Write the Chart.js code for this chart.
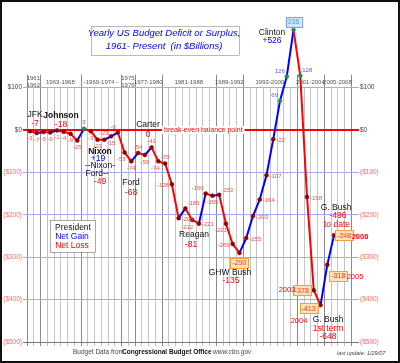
<!DOCTYPE html>
<html>
<head>
<meta charset="utf-8">
<script src="https://cdn.jsdelivr.net/npm/chart.js@4"></script>
<style>
  html, body { margin: 0; padding: 0; background: #fff; }
  canvas { display: block; }
</style>
</head>
<body>
<canvas id="deficitChart" width="400" height="363"></canvas>
<script>
// --- data (billions of dollars, fiscal years) ---
const years = [1961, 1962, 1963, 1964, 1965, 1966, 1967, 1968, 1969, 1970,
  1971, 1972, 1973, 1974, 1975, 1976, 1977, 1978, 1979, 1980,
  1981, 1982, 1983, 1984, 1985, 1986, 1987, 1988, 1989, 1990,
  1991, 1992, 1993, 1994, 1995, 1996, 1997, 1998, 1999, 2000,
  2001, 2002, 2003, 2004, 2005, 2006];
const balance = [-3, -7, -5, -6, -1, -4, -9, -25, 3, -3,
  -23, -23, -15, -6, -53, -74, -54, -59, -41, -74,
  -79, -128, -208, -185, -212, -221, -150, -155, -153, -221,
  -269, -290, -255, -203, -164, -107, -22, 69, 126, 236,
  128, -158, -378, -413, -318, -248];
const yTicks = [100, 0, -100, -200, -300, -400, -500];
const termStarts = [1961, 1963, 1969, 1975, 1977, 1981, 1989, 1993, 2001, 2005, 2009];
const termLabels = ["1961|1962", "1963-1968", "-1969-1974 -", "1975|1976", "1977-1980",
  "1981-1988", "1989-1992", "1993-2000", "2001-2004", "2005-2008"];

// where each value label sits relative to its point (B = boxed)
const labelSpots = ["b", "b", "b", "b", "b", "b", "b", "b", "a", "b",
  "b", "a", "b", "al", "bl", "b", "a", "b", "a", "bl",
  "a", "l", "r", "ar", "bl", "r", "al", "b", "ar", "bl",
  "l", "Bb", "r", "r", "r", "r", "r", "al", "al", "Ba",
  "ar", "r", "Bl", "Bl", "Bbr", "Br"];

const FONT = '"Liberation Sans", Arial, sans-serif';
const RED = "#ff0000";
const BLUE = "#0000ff";
const PINK = "#ff4a4a";
const SOFTBLUE = "#5a5aff";

function money(v) {
  return v < 0 ? "($" + (-v) + ")" : "$" + v;
}

function txt(ctx, s, x, y, color, size, opts = {}) {
  ctx.save();
  ctx.font = (opts.style || "") + " " + (opts.weight || "normal") + " " + size + "px " + FONT;
  ctx.fillStyle = color;
  ctx.textAlign = opts.align || "center";
  ctx.textBaseline = "middle";
  ctx.fillText(s, x, y);
  ctx.restore();
}

// --- background: year grid, term strip, bottom ticks ---
const backdrop = {
  id: "backdrop",
  beforeDraw(chart) {
    const { ctx, scales: { x, y } } = chart;
    const bottom = y.getPixelForValue(-500);
    const top100 = y.getPixelForValue(100);
    ctx.save();
    ctx.fillStyle = "#fff";
    ctx.fillRect(0, 0, chart.width, chart.height);
    // light yearly lines
    for (let yr = 1961; yr <= 2009; yr++) {
      const px = Math.round(x.getPixelForValue(yr - 0.5)) + 0.5;
      ctx.strokeStyle = "#c4c4c4";
      ctx.lineWidth = 1;
      ctx.beginPath();
      ctx.moveTo(px, top100);
      ctx.lineTo(px, bottom + 4);
      ctx.stroke();
    }
    // darker term lines
    termStarts.forEach(yr => {
      const px = Math.round(x.getPixelForValue(yr - 0.5)) + 0.5;
      ctx.strokeStyle = "#8a8a8a";
      ctx.beginPath();
      ctx.moveTo(px, top100 - 13);
      ctx.lineTo(px, bottom + 4);
      ctx.stroke();
    });
    // term strip labels
    termLabels.forEach((lab, i) => {
      const cx = (x.getPixelForValue(termStarts[i] - 0.5) + x.getPixelForValue(termStarts[i + 1] - 0.5)) / 2;
      const parts = lab.split("|");
      if (parts.length === 2) {
        txt(ctx, parts[0], cx, top100 - 9, "#555", 6);
        txt(ctx, parts[1], cx, top100 - 2, "#555", 6);
      } else {
        txt(ctx, lab, cx, top100 - 5, "#555", 6);
      }
    });
    ctx.restore();
  },
  beforeDatasetsDraw(chart) {
    const { ctx, scales: { y } } = chart;
    const y0 = y.getPixelForValue(0);
    ctx.save();
    ctx.font = "7px " + FONT;
    const w = ctx.measureText("break-even balance point").width;
    ctx.fillStyle = "#fff";
    ctx.fillRect(162, y0 - 4, w + 4, 8);
    ctx.restore();
    txt(ctx, "break-even balance point", 164, y0, RED, 7, { align: "left" });
  }
};

// --- value labels, notes, boxes ---
const notes = {
  id: "notes",
  afterDraw(chart) {
    const { ctx } = chart;
    const pts = chart.getDatasetMeta(0).data;
    pts.forEach((p, i) => {
      const v = balance[i];
      const s = String(v);
      const col = v >= 0 ? SOFTBLUE : PINK;
      const code = labelSpots[i];
      if (code[0] === "B") {
        ctx.save();
        ctx.font = "7px " + FONT;
        const w = ctx.measureText(s).width + 4;
        ctx.restore();
        let bx = p.x, by = p.y;
        if (code === "Bb") by += 10;
        if (code === "Ba") by -= 8;
        if (code === "Bl") { bx -= 12; by += (i === 43 ? 3 : 0); }
        if (code === "Br") bx += 10;
        if (code === "Bbr") { bx += 11; by += 11; }
        ctx.save();
        ctx.fillStyle = v >= 0 ? "#cfe6ff" : "#ffe3b0";
        ctx.strokeStyle = v >= 0 ? "#6fa0ff" : "#f0a040";
        ctx.lineWidth = 1;
        ctx.fillRect(bx - w / 2, by - 5, w, 10);
        ctx.strokeRect(Math.round(bx - w / 2) + 0.5, Math.round(by - 5) + 0.5, Math.round(w), 10);
        ctx.restore();
        txt(ctx, s, bx, by + 0.5, v >= 0 ? "#6f8fff" : "#ff3030", 7);
        return;
      }
      let lx = p.x, ly = p.y, al = "center";
      if (code === "b") ly += 7;
      if (code === "a") ly -= 6;
      if (code === "bl") { lx += 1; ly += 7; al = "right"; }
      if (code === "al") { lx -= 2; ly -= 5; al = "right"; }
      if (code === "ar") { lx += 2; ly -= 5; al = "left"; }
      if (code === "l") { lx -= 3; ly += 1; al = "right"; }
      if (code === "r") { lx += 3; ly += 1; al = "left"; }
      txt(ctx, s, lx, ly, col, 6, { align: al });
    });

    // president notes
    const blk = "#111";
    const nsz = 8.5;
    txt(ctx, "JFK", 35, 115, blk, nsz);
    txt(ctx, "-7", 35, 124, RED, nsz);
    txt(ctx, "Johnson", 61, 116, blk, nsz, { weight: "bold" });
    txt(ctx, "-18", 61, 125, RED, nsz);
    txt(ctx, "Carter", 148, 125, blk, nsz);
    txt(ctx, "0", 148, 135, RED, nsz);
    txt(ctx, "Nixon", 100, 152, blk, nsz, { weight: "bold" });
    txt(ctx, "+19", 98, 159, BLUE, nsz);
    txt(ctx, "--Nixon-", 100, 166, blk, nsz);
    txt(ctx, "Ford--", 97, 174, blk, nsz);
    txt(ctx, "-49", 100, 182, RED, nsz);
    txt(ctx, "Ford", 131, 183, blk, nsz);
    txt(ctx, "-68", 131, 193, RED, nsz);
    txt(ctx, "Reagan", 194, 235, blk, nsz);
    txt(ctx, "-81", 191, 245, RED, nsz);
    txt(ctx, "GHW Bush", 230, 273, blk, nsz);
    txt(ctx, "-135", 231, 281, RED, nsz);
    txt(ctx, "Clinton", 272, 33, blk, nsz);
    txt(ctx, "+526", 272, 41, BLUE, nsz);
    txt(ctx, "G. Bush", 336, 208, blk, nsz);
    txt(ctx, "-496", 338, 216, RED, nsz);
    txt(ctx, "to date", 337, 225, RED, nsz);
    txt(ctx, "G. Bush", 328, 320, blk, nsz);
    txt(ctx, "1st term", 328, 329, RED, nsz);
    txt(ctx, "-648", 328, 337, RED, nsz);
    txt(ctx, "2003", 287, 290, RED, 7.5);
    txt(ctx, "2004", 299, 321, RED, 7.5);
    txt(ctx, "2005", 355, 277, RED, 7.5);
    txt(ctx, "2006", 360, 237, RED, 7.5, { weight: "bold" });

    // title box
    ctx.save();
    ctx.fillStyle = "#fff";
    ctx.fillRect(91, 26, 148, 29);
    ctx.strokeStyle = "#777";
    ctx.strokeRect(91.5, 26.5, 148, 29);
    ctx.restore();
    txt(ctx, "Yearly US Budget Deficit or Surplus,", 164, 33.5, BLUE, 9.5, { style: "italic" });
    txt(ctx, "1961- Present  (in $Billions)", 164, 46, BLUE, 9.5, { style: "italic" });

    // legend box
    ctx.save();
    ctx.fillStyle = "#fff";
    ctx.fillRect(50, 220, 45, 32);
    ctx.strokeStyle = "#555";
    ctx.strokeRect(50.5, 220.5, 45, 32);
    ctx.restore();
    txt(ctx, "President", 73, 228, blk, 8.5);
    txt(ctx, "Net Gain", 72, 237, BLUE, 8.5);
    txt(ctx, "Net Loss", 72, 246, RED, 8.5);

    // footer
    txt(ctx, "Budget Data from", 73, 352, "#444", 6.5, { align: "left" });
    txt(ctx, "Congressional Budget Office", 122, 352, "#111", 6.5, { align: "left", weight: "bold" });
    txt(ctx, "www.cbo.gov", 213, 352, "#444", 6.5, { align: "left", style: "italic" });
    txt(ctx, "last update: 1/29/07", 337, 353, "#444", 5.5, { align: "left", style: "italic" });

    // frame
    ctx.save();
    ctx.strokeStyle = "#111";
    ctx.lineWidth = 2;
    ctx.strokeRect(1, 1, chart.width - 2, chart.height - 2);
    ctx.restore();
  }
};

const yAxisCommon = {
  min: -500,
  max: 283,
  afterBuildTicks: axis => { axis.ticks = yTicks.map(v => ({ value: v })); },
  border: { display: false },
  ticks: {
    font: { family: FONT, size: 6.5 },
    color: c => (c.tick.value < 0 ? "#ff6a6a" : "#444"),
    padding: 1,
    callback: v => money(v),
  },
};

new Chart(document.getElementById("deficitChart"), {
  type: "line",
  data: {
    labels: years,
    datasets: [{
      data: years.map((yr, i) => ({ x: yr, y: balance[i] })),
      borderWidth: 2,
      borderColor: RED,
      segment: {
        borderColor: c => (c.p1.parsed.y > c.p0.parsed.y ? BLUE : RED),
      },
      pointRadius: 2,
      pointBorderWidth: 0.5,
      pointBackgroundColor: balance.map(v => (v >= 0 ? "#1f8a5a" : "#900000")),
      pointBorderColor: balance.map(v => (v >= 0 ? "#1f8a5a" : "#900000")),
      tension: 0,
      clip: false,
    }],
  },
  options: {
    responsive: false,
    animation: false,
    layout: { padding: { top: 10, bottom: 21, left: 0, right: 0 } },
    plugins: {
      legend: { display: false },
      tooltip: { enabled: false },
    },
    scales: {
      x: {
        type: "linear",
        display: false,
        min: 1960.56,
        max: 2009.1,
      },
      y: {
        ...yAxisCommon,
        position: "left",
        afterFit: s => { s.width = 27; },
        grid: {
          color: c => (c.tick.value === 0 ? RED : c.tick.value === -500 ? "#777" : "#a6a8f4"),
          lineWidth: c => (c.tick.value === 0 ? 2 : 1),
          tickLength: 4,
        },
      },
      yRight: {
        ...yAxisCommon,
        position: "right",
        afterFit: s => { s.width = 45; },
        grid: {
          drawOnChartArea: false,
          color: c => (c.tick.value === 0 ? RED : c.tick.value === -500 ? "#777" : "#a6a8f4"),
          lineWidth: c => (c.tick.value === 0 ? 2 : 1),
          tickLength: 4,
        },
      },
    },
  },
  plugins: [backdrop, notes],
});
</script>
</body>
</html>
